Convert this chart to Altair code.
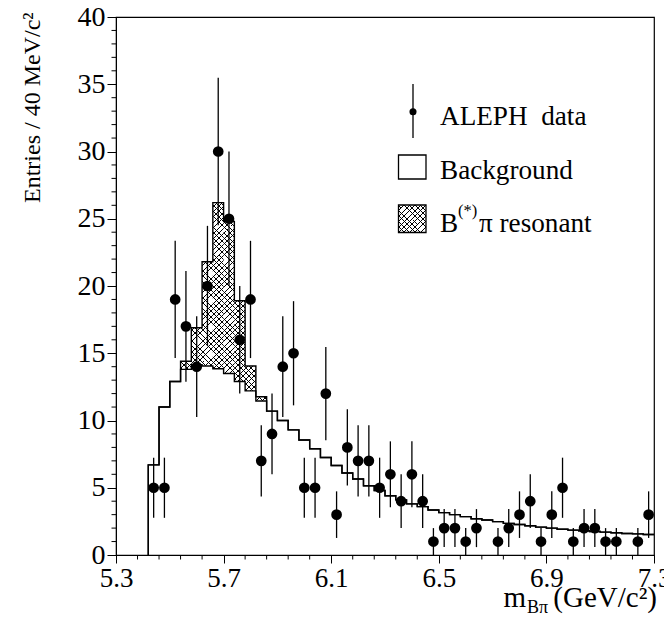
import altair as alt
import pandas as pd

# ---------------- data ----------------
BIN_LO = 5.42          # first bin lower edge (GeV/c^2)
BIN_W = 0.04           # 40 MeV/c^2 bins

data_counts = [5, 5, 19, 17, 14, 20, 30, 25, 16, 19,
               7, 9, 14, 15, 5, 5, 12, 3, 8, 7,
               7, 5, 6, 4, 6, 4, 1, 2, 2, 1,
               2, 0, 1, 2, 3, 4, 1, 3, 5, 1,
               2, 2, 1, 1, 0, 1, 3]

background = [6.7, 11.0, 12.9, 13.8, 14.15, 14.05, 13.85, 13.5, 12.9, 12.2,
              11.45, 10.7, 10.0, 9.3, 8.55, 7.9, 7.25, 6.65, 6.1, 5.65,
              5.15, 4.8, 4.4, 4.1, 3.8, 3.6, 3.35, 3.15, 3.0, 2.85,
              2.7, 2.6, 2.48, 2.35, 2.27, 2.17, 2.07, 2.0, 1.92, 1.85,
              1.8, 1.75, 1.7, 1.65, 1.6, 1.57, 1.52]

resonant = [0, 0, 0, 0.6, 2.75, 7.75, 12.35, 11.3, 6.0, 1.85,
            0.32, 0, 0, 0, 0, 0, 0, 0, 0, 0,
            0, 0, 0, 0, 0, 0, 0, 0, 0, 0,
            0, 0, 0, 0, 0, 0, 0, 0, 0, 0,
            0, 0, 0, 0, 0, 0, 0]

x_major = [5.3, 5.7, 6.1, 6.5, 6.9, 7.3]
y_major = [0, 5, 10, 15, 20, 25, 30, 35, 40]
x_minor = [round(5.3 + 0.08 * i, 2) for i in range(26) if i % 5]
y_minor = [i for i in range(41) if i % 5]

legend_labels = ["ALEPH\u00a0\u00a0data", "Background", "B", "(*)", "\u03c0 resonant"]
y_title = "Entries / 40 MeV/c\u00b2"

# ---------------- layout ----------------
W, H = 538, 538
X_DOM = [5.3, 7.3]
Y_DOM = [0, 40]
FONT = "Liberation Serif"
PX_X = W / (X_DOM[1] - X_DOM[0])
PX_Y = H / (Y_DOM[1] - Y_DOM[0])
HATCH_Q = 5.4     # hatch period (px)
HATCH_LW = 0.95   # hatch line width (px)

n = len(data_counts)
lefts = [round(BIN_LO + BIN_W * i, 4) for i in range(n)]
centers = [round(l + BIN_W / 2, 4) for l in lefts]
total = [round(b + s, 4) for b, s in zip(background, resonant)]

def step_table(vals):
    rows = [{"x": lefts[0], "y": 0.0, "o": 0}]
    for i, v in enumerate(vals):
        rows.append({"x": lefts[i], "y": v, "o": len(rows)})
    rows.append({"x": round(lefts[-1] + BIN_W, 4), "y": vals[-1], "o": len(rows)})
    return pd.DataFrame(rows)

bg_df = step_table(background)
tot_df = step_table(total)
pts_df = pd.DataFrame({"x": centers, "n": data_counts})

CLEAR = "rgba(255,255,255,0)"

def hatch(wp, hp, direction, phase=0.0, q=HATCH_Q, lw=HATCH_LW):
    """Linear-gradient stripes at 45 deg inside a wp x hp pixel box."""
    L = wp + hp
    k = L / (wp * wp + hp * hp)
    bx, by = wp * k, hp * k
    if direction == 1:
        x1, y1, x2, y2 = 0, 0, bx, by
    else:
        x1, y1, x2, y2 = 0, 1, bx, 1 - by
    stops = []
    c = phase % q - q
    while c < L:
        a = max(c / L, 0.0)
        b = min((c + lw) / L, 1.0)
        if b > 0:
            stops += [alt.GradientStop(offset=a, color=CLEAR),
                      alt.GradientStop(offset=a, color="black"),
                      alt.GradientStop(offset=b, color="black"),
                      alt.GradientStop(offset=b, color=CLEAR)]
        c += q
    return alt.LinearGradient(gradient="linear", stops=stops,
                              x1=x1, y1=y1, x2=x2, y2=y2)

x_scale = alt.Scale(domain=X_DOM, nice=False, zero=False)
y_scale = alt.Scale(domain=Y_DOM, nice=False, zero=False)
x_axis = alt.Axis(values=x_major, format=".1f", title=None, grid=False,
                  labelFont=FONT, labelFontSize=27, labelColor="black",
                  tickSize=8, tickColor="black", domainColor="black",
                  labelPadding=2, labelOverlap=False, labelFlush=False)
y_axis = alt.Axis(values=y_major, format="d", title=y_title, grid=False,
                  labelFont=FONT, labelFontSize=28, labelColor="black",
                  tickSize=9, tickColor="black", domainColor="black",
                  labelPadding=2, labelOverlap=False, labelFlush=False,
                  titleFont=FONT, titleFontSize=24, titleFontWeight="normal",
                  titleColor="black", titleAnchor="end", titleAlign="right",
                  titleAngle=270, titleBaseline="alphabetic",
                  titleX=-77, titleY=-5)

def X(f):
    return alt.X(f, type="quantitative", scale=x_scale, axis=x_axis)

def Y(f):
    return alt.Y(f, type="quantitative", scale=y_scale, axis=y_axis)

# hatched resonant component: one rect per bin, stripes phased on a global grid
hatch_layers = []
for i, s in enumerate(resonant):
    if s <= 0:
        continue
    x0 = lefts[i]
    df = pd.DataFrame([{"x": x0, "x2": round(x0 + BIN_W, 4),
                        "top": total[i], "bot": background[i]}])
    wpx = BIN_W * PX_X
    hpx = (total[i] - background[i]) * PX_Y
    X0 = (x0 - X_DOM[0]) * PX_X
    Y0 = (Y_DOM[1] - total[i]) * PX_Y
    for d in (1, 2):
        ph = -(X0 + Y0) if d == 1 else (-X0 + Y0 + hpx)
        hatch_layers.append(
            alt.Chart(df).mark_rect(fill=hatch(wpx, hpx, d, phase=ph)).encode(
                x=X("x"), x2="x2", y=Y("top"), y2="bot"))

bg_line = alt.Chart(bg_df).mark_line(interpolate="step-after", color="black",
                                      strokeWidth=1.4).encode(
    x=X("x"), y=Y("y"), order="o:Q")
tot_line = alt.Chart(tot_df).mark_line(interpolate="step-after", color="black",
                                        strokeWidth=1.4).encode(
    x=X("x"), y=Y("y"), order="o:Q")

pts_base = alt.Chart(pts_df).transform_filter("datum.n > 0").transform_calculate(
    lo="datum.n - sqrt(datum.n)", hi="datum.n + sqrt(datum.n)")
err = pts_base.mark_rule(color="black", strokeWidth=1.3).encode(
    x=X("x"), y=Y("lo:Q"), y2="hi:Q")
dots = pts_base.mark_circle(size=115, color="black", opacity=1).encode(
    x=X("x"), y=Y("n"))

xminor = alt.Chart(pd.DataFrame({"v": x_minor})).mark_rule(
    color="black", strokeWidth=1).encode(
    x=X("v"), y=alt.value(H), y2=alt.value(H + 4.5))
yminor = alt.Chart(pd.DataFrame({"v": y_minor})).mark_rule(
    color="black", strokeWidth=1).encode(
    y=Y("v"), x=alt.value(0), x2=alt.value(-4.5))

one = alt.Data(values=[{"a": 1}])

def txt(s, x, y, size, align="left"):
    return alt.Chart(one).mark_text(text=s, font=FONT, fontSize=size,
                                    align=align, baseline="alphabetic",
                                    color="black").encode(
        x=alt.value(x), y=alt.value(y))

# legend
leg_rule = alt.Chart(one).mark_rule(color="black", strokeWidth=1.3).encode(
    x=alt.value(297), y=alt.value(67), y2=alt.value(121))
leg_dot = alt.Chart(one).mark_circle(size=50, color="black", opacity=1).encode(
    x=alt.value(297), y=alt.value(94.7))
leg_bg = alt.Chart(one).mark_rect(fill="white", stroke="black",
                                  strokeWidth=1.3).encode(
    x=alt.value(282.5), x2=alt.value(310), y=alt.value(138), y2=alt.value(162))
leg_h1 = alt.Chart(one).mark_rect(fill=hatch(27.5, 27.5, 1)).encode(
    x=alt.value(282.5), x2=alt.value(310), y=alt.value(188), y2=alt.value(215.5))
leg_h2 = alt.Chart(one).mark_rect(fill=hatch(27.5, 27.5, 2), stroke="black",
                                  strokeWidth=1.3).encode(
    x=alt.value(282.5), x2=alt.value(310), y=alt.value(188), y2=alt.value(215.5))

LEG_FS = 27.2
leg_t1 = txt(legend_labels[0], 324, 108, LEG_FS)
leg_t2 = txt(legend_labels[1], 324, 162, LEG_FS)
leg_t3 = txt(legend_labels[2], 324, 214.5, LEG_FS)
leg_t4 = txt(legend_labels[3], 342, 199, 16.5)
leg_t5 = txt(legend_labels[4], 363, 214.5, LEG_FS)

# x-axis title (composed: m_{B pi} (GeV/c^2))
xt1 = txt("(GeV/c\u00b2)", 541, 590, 29, align="right")
xt2 = txt("B\u03c0", 432, 596, 18, align="right")
xt3 = txt("m", 410, 590, 29, align="right")

chart = alt.layer(
    *hatch_layers, bg_line, tot_line, err, dots, xminor, yminor,
    leg_rule, leg_dot, leg_bg, leg_h1, leg_h2,
    leg_t1, leg_t2, leg_t3, leg_t4, leg_t5, xt1, xt2, xt3
).properties(
    width=W, height=H,
    padding={"left": 108, "top": 9, "right": 10, "bottom": 59},
    autosize=alt.AutoSizeParams(type="none"),
    background="white",
).configure_view(stroke="black", strokeWidth=1.2)

chart.save("out.html", embed_options={"renderer": "svg", "actions": False})
